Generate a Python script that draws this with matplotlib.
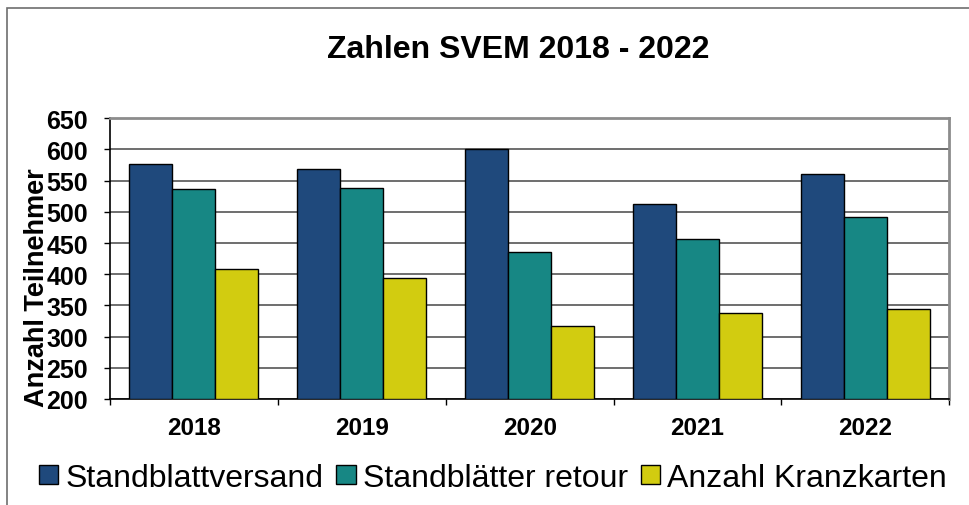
import numpy as np
import matplotlib.pyplot as plt
from matplotlib.patches import Rectangle

# data
years = ['2018', '2019', '2020', '2021', '2022']
versand = [576, 569, 600, 512, 561]
retour = [537, 538, 435, 457, 491]
kranzkarten = [409, 394, 317, 338, 344]

labels = ['Standblattversand', 'Standblätter retour', 'Anzahl Kranzkarten']
colors = ['#1F497C', '#178784', '#D2CC10']

plt.rcParams['font.family'] = ['Liberation Sans', 'DejaVu Sans']

fig = plt.figure(figsize=(9.69, 5.06), dpi=100)
W, H = 969, 506

# outer chart frame (cut off at right and bottom like the reference)
fig.patches.append(Rectangle((6.5 / W, -0.1), 1.2, 1.1 - 9 / H,
                             transform=fig.transFigure, fill=False,
                             edgecolor='#6e6e6e', lw=1.2))

ax = fig.add_axes([110 / W, 1 - 400 / H, 839.3 / W, 280.7 / H])

x = np.arange(len(years))
w = 0.256
series = [versand, retour, kranzkarten]
for i, vals in enumerate(series):
    ax.bar(x + (i - 1) * w, np.array(vals) - 200, bottom=200, width=w,
           color=colors[i], edgecolor='black', lw=1, label=labels[i], zorder=3)

ax.set_xlim(-0.5, 4.5)
ax.set_ylim(200, 650)
ax.set_yticks(range(200, 651, 50))
ax.yaxis.grid(True, color='#555555', lw=1.2, zorder=0)

# category tick marks at the boundaries
ax.set_xticks(np.arange(-0.5, 5, 1), minor=False)
ax.set_xticklabels([])
ax.set_xticks(x, minor=True)
ax.set_xticklabels(years, minor=True, fontsize=17.5, fontweight='bold')
ax.tick_params(axis='x', which='minor', length=0, pad=12)
ax.tick_params(axis='x', which='major', length=4.3, width=1, direction='out')
ax.tick_params(axis='y', length=4.3, width=1, direction='out', labelsize=18, pad=11.5)
for t in ax.get_yticklabels():
    t.set_fontweight('bold')

for side in ['top', 'right']:
    ax.spines[side].set_color('#8c8c8c')
    ax.spines[side].set_linewidth(2)
ax.spines['left'].set_linewidth(1.2)
ax.spines['bottom'].set_linewidth(1.2)

ax.set_ylabel('Anzahl Teilnehmer', fontsize=19.5, fontweight='bold')
ax.yaxis.set_label_coords(-0.072, 0.40)

fig.text(518 / W, 1 - 50 / H, 'Zahlen SVEM 2018 - 2022', ha='center', va='center',
         fontsize=23, fontweight='bold')

fig.legend(loc='center', bbox_to_anchor=(493 / W, 1 - 479 / H), ncol=3,
           fontsize=23, frameon=False, handlelength=0.6, handleheight=0.55,
           handletextpad=0.22, columnspacing=0.42)

fig.savefig('out.png', dpi=100)
